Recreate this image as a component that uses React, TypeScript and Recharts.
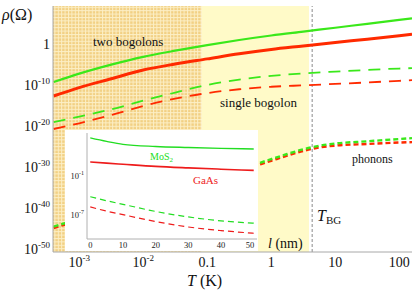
import React from 'react';
import { LineChart, Line, XAxis, YAxis, ReferenceArea, ReferenceLine } from 'recharts';

const FONT = "'Liberation Serif', 'DejaVu Serif', 'Noto Serif', 'Liberation Sans', serif";

// main panel, everything in log10 units: x = log10 T (K), y = log10 rho (Ohm)
const logT = [-3.4, -3, -2.5, -2, -1.5, -1, -0.5, 0, 0.5, 1, 1.5, 2, 2.2];
const twoBogMoS2 = [-9.25, -7.2, -5.0, -3.1, -1.6, -0.25, 1.0, 2.1, 3.05, 4.0, 4.95, 5.9, 6.3];
const twoBogGaAs = [-12.65, -10.6, -8.45, -6.3, -4.85, -3.6, -2.35, -1.3, -0.45, 0.4, 1.2, 2.05, 2.4];
const oneBogMoS2 = [-19.0, -17.7, -15.9, -13.8, -11.8, -9.95, -8.65, -7.75, -7.15, -6.7, -6.3, -5.95, -5.85];
const oneBogGaAs = [-20.7, -19.3, -17.3, -15.1, -13.3, -11.95, -11.0, -10.4, -10.05, -9.7, -9.35, -8.95, -8.8];

const phononLogT = [-3.4, -3, -2.5, -2, -1.5, -1, -0.5, 0, 0.25, 0.5, 0.75, 1, 1.5, 2, 2.2];
const phononMoS2 = [-44.5, -42.6, -40.2, -37.8, -35.4, -33.0, -30.6, -28.05, -26.8, -25.65, -24.8, -24.25, -23.7, -23.15, -22.93];
const phononGaAs = [-44.85, -42.95, -40.55, -38.15, -35.75, -33.35, -30.95, -28.45, -27.2, -26.05, -25.2, -24.75, -24.35, -24.0, -23.9];

const xTicks = [-3, -2, -1, 0, 1, 2];
const yTicks = [0, -10, -20, -30, -40, -50];
const hatchEnd = -1.09; // log10 T where the hatched region stops
const yellowEnd = 0.59;
const tBG = 0.64;

// inset: rho vs l (nm)
const insetL = [0, 5, 10, 20, 30, 40, 50];
const insetTwoMoS2 = [4.84, 4.3, 3.85, 3.52, 3.36, 3.23, 3.13];
const insetTwoGaAs = [1.14, 0.95, 0.78, 0.45, 0.22, 0.02, -0.17];
const insetOneMoS2 = [-4.23, -4.85, -5.4, -6.5, -7.35, -7.95, -8.3];
const insetOneGaAs = [-5.8, -6.45, -7.0, -8.05, -8.9, -9.45, -9.86];
const insetXTicks = [0, 10, 20, 30, 40, 50];
const insetYTicks = [5, -1, -7];

const GREEN = '#3ae81a';
const RED = '#ff2a00';
const IN_GREEN = '#22dd22';
const IN_RED = '#ee1c1c';

const mainRows = logT.map((t, i) => ({
  t,
  twoM: twoBogMoS2[i],
  twoG: twoBogGaAs[i],
  oneM: oneBogMoS2[i],
  oneG: oneBogGaAs[i],
}));
const phononRows = phononLogT.map((t, i) => ({ t, pM: phononMoS2[i], pG: phononGaAs[i] }));
const insetRows = insetL.map((l, i) => ({
  l,
  twoM: insetTwoMoS2[i],
  twoG: insetTwoGaAs[i],
  oneM: insetOneMoS2[i],
  oneG: insetOneGaAs[i],
}));

const serif = { fontFamily: FONT };

const XTick = ({ x, y, payload }: any) => {
  const v = payload.value;
  const plain: any = { '-1': '0.1', '0': '1', '1': '10', '2': '100' };
  return (
    <text x={x} y={y} dy={15} textAnchor="middle" style={serif} fontSize={14} fill="#111">
      {plain[String(v)] ? (
        plain[String(v)]
      ) : (
        <>
          <tspan>10</tspan>
          <tspan dy={-6} fontSize={9}>{v}</tspan>
        </>
      )}
    </text>
  );
};

const YTick = ({ x, y, payload }: any) => {
  const v = payload.value;
  return (
    <text x={x} y={y} dy={5} textAnchor="end" style={serif} fontSize={14} fill="#111">
      {v === 0 ? (
        '1'
      ) : (
        <>
          <tspan>10</tspan>
          <tspan dy={-6} fontSize={9}>{v}</tspan>
        </>
      )}
    </text>
  );
};

const InsetYTick = ({ x, y, payload }: any) => (
  <text x={x} y={y} dy={3} textAnchor="end" style={serif} fontSize={8.5} fill="#222">
    <tspan>10</tspan>
    <tspan dy={-4} fontSize={6}>{payload.value}</tspan>
  </text>
);

const InsetXTick = ({ x, y, payload }: any) => (
  <text x={x} y={y} dy={9} textAnchor="middle" style={serif} fontSize={8.5} fill="#222">
    {payload.value}
  </text>
);

const FRAME = '#a8a8a8';

export default function App() {
  return (
    <div style={{ position: 'absolute', left: 0, top: 0, width: 414, height: 292, background: '#fff', fontFamily: FONT }}>
      <LineChart width={414} height={292} data={mainRows} margin={{ top: 6, right: 2, bottom: 0, left: 0 }}>
        <defs>
          <pattern id="hatch" width={3.4} height={3.4} patternUnits="userSpaceOnUse">
            <rect width={3.4} height={3.4} fill="#fcefc6" />
            <rect x={1} y={1} width={2.4} height={2.4} fill="#f2d083" />
          </pattern>
        </defs>
        <XAxis
          dataKey="t"
          type="number"
          domain={[-3.41, 2.2]}
          allowDataOverflow
          ticks={xTicks}
          tick={<XTick />}
          tickLine={false}
          tickSize={0}
          tickMargin={0}
          height={40}
          axisLine={{ stroke: FRAME }}
        />
        <XAxis
          xAxisId="top"
          orientation="top"
          type="number"
          domain={[-3.41, 2.2]}
          allowDataOverflow
          ticks={xTicks}
          tick={false}
          mirror
          tickSize={4}
          height={0}
          axisLine={{ stroke: FRAME }}
          tickLine={{ stroke: FRAME }}
        />
        <YAxis
          type="number"
          domain={[-50.7, 9.3]}
          allowDataOverflow
          ticks={yTicks}
          tick={<YTick />}
          tickLine={false}
          tickSize={0}
          tickMargin={3}
          width={53}
          axisLine={{ stroke: FRAME }}
        />
        <YAxis
          yAxisId="right"
          orientation="right"
          type="number"
          domain={[-50.7, 9.3]}
          allowDataOverflow
          ticks={[5, 0, -5, -10, -15, -20, -25, -30, -35, -40, -45, -50]}
          tick={false}
          mirror
          tickSize={3}
          width={0}
          axisLine={{ stroke: FRAME }}
          tickLine={{ stroke: FRAME }}
        />
        <ReferenceArea x1={hatchEnd} x2={yellowEnd} fill="#fffac8" fillOpacity={1} stroke="none" />
        <ReferenceArea x1={-3.41} x2={hatchEnd} fill="url(#hatch)" fillOpacity={1} stroke="none" />
        <ReferenceLine x={tBG} stroke="#8a8a8a" strokeDasharray="3 2" strokeWidth={1} />
        <Line dataKey="oneG" type="monotone" stroke={RED} strokeWidth={1.8} strokeDasharray="12 8" dot={false} isAnimationActive={false} />
        <Line dataKey="oneM" type="monotone" stroke={GREEN} strokeWidth={1.8} strokeDasharray="12 8" dot={false} isAnimationActive={false} />
        <Line dataKey="twoG" type="monotone" stroke={RED} strokeWidth={3} dot={false} isAnimationActive={false} />
        <Line dataKey="twoM" type="monotone" stroke={GREEN} strokeWidth={2.2} dot={false} isAnimationActive={false} />
        <Line data={phononRows} dataKey="pG" type="monotone" stroke={RED} strokeWidth={2.4} strokeDasharray="5 3" dot={false} isAnimationActive={false} />
        <Line data={phononRows} dataKey="pM" type="monotone" stroke={GREEN} strokeWidth={2.4} strokeDasharray="5 3" dot={false} isAnimationActive={false} />
      </LineChart>

      <div style={{ position: 'absolute', left: 65, top: 130, width: 193, height: 121, background: '#fff' }}>
        <LineChart width={193} height={121} data={insetRows} margin={{ top: 3, right: 1, bottom: 0, left: 0 }}>
          <XAxis
            dataKey="l"
            type="number"
            domain={[-1, 51]}
            ticks={insetXTicks}
            tick={<InsetXTick />}
            tickLine={false}
            tickSize={0}
            tickMargin={0}
            height={12}
            axisLine={{ stroke: '#b0b0b0' }}
          />
          <XAxis
            xAxisId="top"
            orientation="top"
            type="number"
            domain={[-1, 51]}
            tick={false}
            tickLine={false}
            height={0}
            axisLine={{ stroke: '#d8d8d8' }}
          />
          <YAxis
            type="number"
            domain={[-10.75, 5.6]}
            allowDataOverflow
            ticks={insetYTicks}
            tick={<InsetYTick />}
            tickLine={false}
            tickSize={0}
            tickMargin={3}
            width={22}
            axisLine={{ stroke: '#b0b0b0' }}
          />
          <YAxis
            yAxisId="right"
            orientation="right"
            type="number"
            domain={[-10.75, 5.6]}
            tick={false}
            tickLine={false}
            width={0}
            axisLine={{ stroke: '#d8d8d8' }}
          />
          <Line dataKey="twoM" type="monotone" stroke={IN_GREEN} strokeWidth={1.4} dot={false} isAnimationActive={false} />
          <Line dataKey="twoG" type="monotone" stroke={IN_RED} strokeWidth={1.6} dot={false} isAnimationActive={false} />
          <Line dataKey="oneM" type="monotone" stroke={IN_GREEN} strokeWidth={1.2} strokeDasharray="6 4" dot={false} isAnimationActive={false} />
          <Line dataKey="oneG" type="monotone" stroke={IN_RED} strokeWidth={1.2} strokeDasharray="6 4" dot={false} isAnimationActive={false} />
        </LineChart>
      </div>

      <svg width={414} height={292} style={{ position: 'absolute', left: 0, top: 0, pointerEvents: 'none', fontFamily: FONT }}>
        <text x={2} y={20} fontSize={16} fill="#111">
          <tspan fontStyle="italic">ρ</tspan>(Ω)
        </text>
        <text x={93} y={46} fontSize={13} fill="#111">two bogolons</text>
        <text x={220} y={107} fontSize={13} fill="#111">single bogolon</text>
        <text x={352} y={163} fontSize={12} fill="#111">phonons</text>
        <text x={317} y={221} fontSize={16} fill="#111">
          <tspan fontStyle="italic">T</tspan>
          <tspan dy={3} fontSize={11}>BG</tspan>
        </text>
        <text x={268} y={248} fontSize={14} fill="#111">
          <tspan fontStyle="italic">l</tspan> (nm)
        </text>
        <text x={150} y={160} fontSize={10} fill={IN_GREEN}>
          MoS<tspan dy={2} fontSize={7}>2</tspan>
        </text>
        <text x={193} y={184} fontSize={11} fill={IN_RED}>GaAs</text>
        <text x={187} y={286} fontSize={16} fill="#111">
          <tspan fontStyle="italic">T</tspan> (K)
        </text>
      </svg>
    </div>
  );
}
